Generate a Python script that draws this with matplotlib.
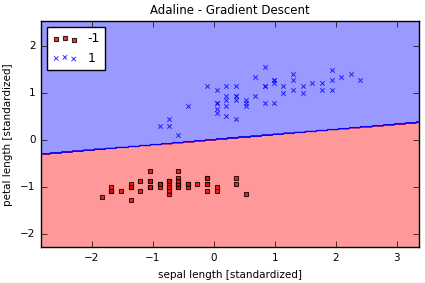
import numpy as np
import matplotlib
matplotlib.use('Agg')
import matplotlib.pyplot as plt
from matplotlib.colors import ListedColormap

plt.style.use('classic')

# standardized sepal length / petal length, class -1
setosa_x = [-0.58, -0.89, -1.21, -1.36, -0.74, -0.11, -1.36, -0.74, -1.68, -0.89,
            -0.11, -1.05, -1.05, -1.83, 0.52, 0.36, -0.11, -0.58, 0.36, -0.58,
            -0.11, -0.58, -1.36, -0.58, -1.05, -0.74, -0.74, -0.42, -0.42, -1.21,
            -1.05, -0.11, -0.42, 0.05, -0.89, -0.74, 0.05, -0.89, -1.68, -0.58,
            -0.74, -1.52, -1.68, -0.74, -0.58, -1.05, -0.58, -1.36, -0.27, -0.74]
setosa_y = [-1.01, -1.01, -1.08, -0.94, -1.01, -0.81, -1.01, -0.94, -1.01, -0.94,
            -0.94, -0.87, -1.01, -1.22, -1.15, -0.94, -1.08, -1.01, -0.81, -0.94,
            -0.81, -0.94, -1.29, -0.81, -0.67, -0.87, -0.87, -0.94, -1.01, -0.87,
            -0.87, -0.94, -0.94, -1.01, -0.94, -1.15, -1.08, -0.94, -1.08, -0.94,
            -1.08, -1.08, -1.08, -0.87, -0.67, -1.01, -0.87, -1.01, -0.94, -1.01]

# class 1
versi_x = [2.39, 1.46, 2.24, 0.05, 1.61, 0.36, 1.30, -0.89, 1.77, -0.42,
           -0.74, 0.67, 0.83, 0.99, 0.20, 1.93, 0.20, 0.52, 1.14, 0.20,
           0.67, 0.99, 1.30, 0.99, 1.46, 1.77, 2.08, 1.93, 0.83, 0.36,
           0.05, 0.05, 0.52, 0.83, -0.11, 0.83, 1.93, 1.30, 0.20, 0.05,
           0.05, 0.99, 0.52, -0.74, 0.20, 0.36, 0.36, 1.14, -0.58, 0.36]
versi_y = [1.28, 1.14, 1.41, 0.79, 1.21, 1.14, 1.28, 0.30, 1.21, 0.72,
           0.44, 0.93, 0.79, 1.28, 0.51, 1.07, 1.14, 0.86, 1.14, 0.72,
           1.35, 0.79, 1.41, 1.28, 1.00, 1.07, 1.35, 1.48, 1.14, 0.44,
           0.65, 0.58, 0.72, 1.55, 1.14, 1.14, 1.28, 1.07, 0.86, 0.79,
           1.07, 1.21, 0.79, 0.30, 0.93, 0.93, 0.93, 1.00, 0.10, 0.86]

# adaline weights: w0 + w1*x + w2*y = 0
weights = [-0.005, -0.11, 1.0]

X = np.column_stack([setosa_x + versi_x, setosa_y + versi_y])

fig = plt.figure(figsize=(4.25, 2.83), dpi=100)
ax = fig.add_axes([0.097, 0.126, 0.89, 0.799])

cmap = ListedColormap(['red', 'blue'])
res = 0.02
x_min, x_max = X[:, 0].min() - 1, X[:, 0].max() + 1
y_min, y_max = X[:, 1].min() - 1, X[:, 1].max() + 1
xx1, xx2 = np.meshgrid(np.arange(x_min, x_max, res), np.arange(y_min, y_max, res))
net = weights[0] + weights[1] * xx1 + weights[2] * xx2
Z = np.where(net >= 0.0, 1, -1)
ax.contourf(xx1, xx2, Z, alpha=0.4, cmap=cmap)
# the old renderer left a blue seam along the boundary
ax.contour(xx1, xx2, Z, levels=[0], colors='blue', linewidths=1.0, alpha=0.8)
ax.set_xlim(xx1.min(), xx1.max())
ax.set_ylim(xx2.min(), xx2.max())

ax.scatter(setosa_x, setosa_y, s=9, alpha=0.8, c='red', marker='s',
           edgecolors='black', linewidths=0.8, label='-1')
ax.scatter(versi_x, versi_y, s=10, alpha=0.8, c='blue', marker='x',
           linewidths=0.7, label='1')

ax.set_title('Adaline - Gradient Descent', fontsize=8.5)
ax.set_xlabel('sepal length [standardized]', fontsize=7.5)
ax.set_ylabel('petal length [standardized]', fontsize=7.5)
ax.tick_params(labelsize=7.5)
ax.set_xticks([-2, -1, 0, 1, 2, 3])
ax.set_yticks([-2, -1, 0, 1, 2])
ax.legend(loc='upper left', fontsize=9)

fig.savefig('out.png', dpi=100, facecolor='white')
